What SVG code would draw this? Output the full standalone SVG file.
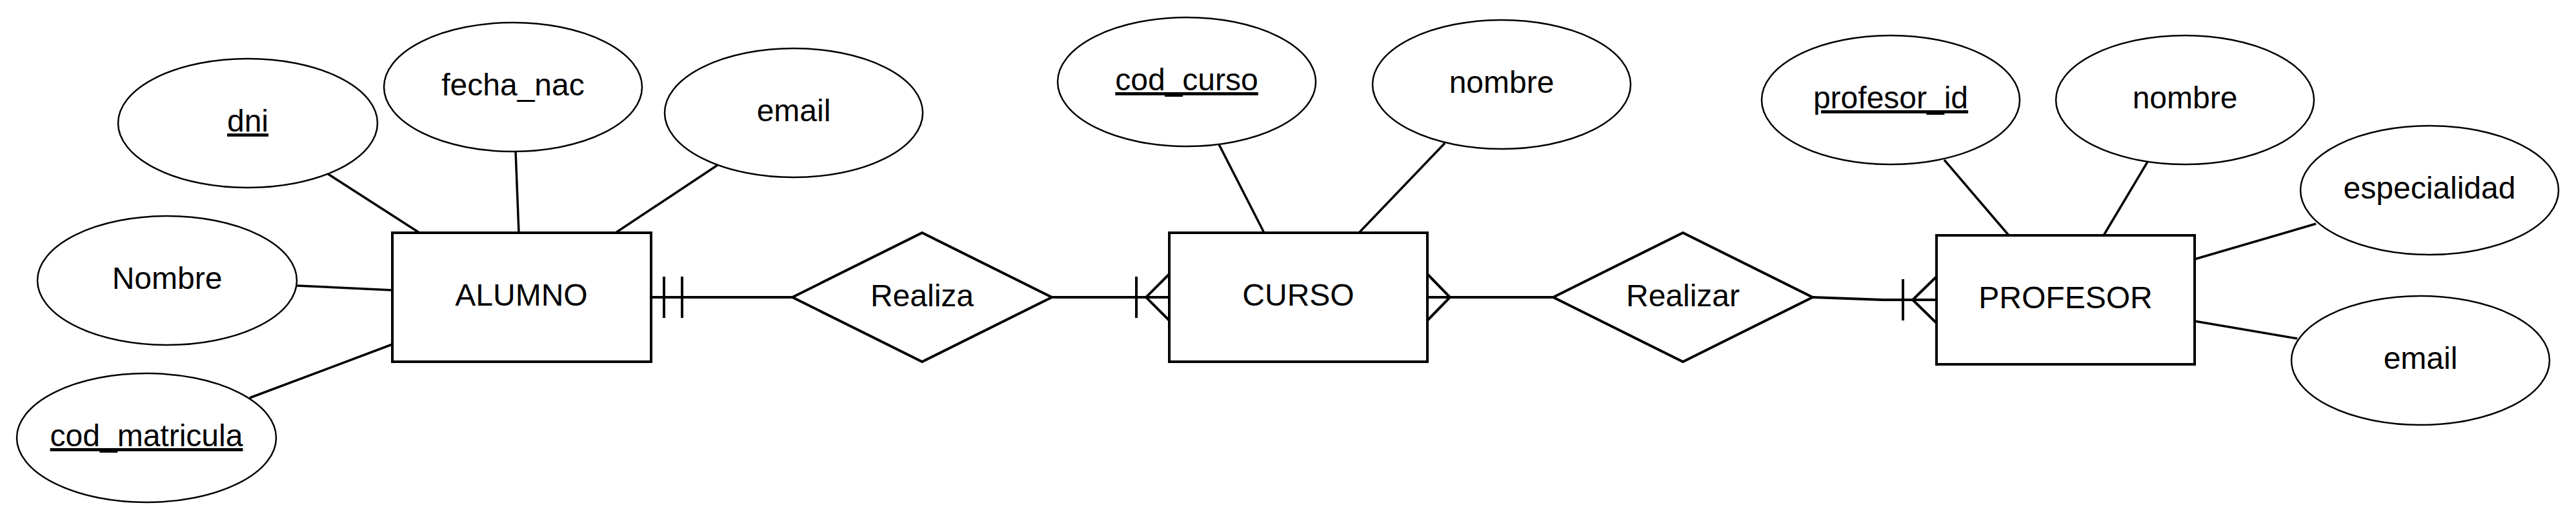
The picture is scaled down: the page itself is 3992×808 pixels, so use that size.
<svg xmlns="http://www.w3.org/2000/svg" width="3992" height="808" viewBox="0 0 3992 808">
<style>
.bg{fill:#ffffff}
.ent{fill:#ffffff;stroke:#000000;stroke-width:4}
.rel{fill:#ffffff;stroke:#000000;stroke-width:4;stroke-linejoin:miter}
.att{fill:#ffffff;stroke:#000000;stroke-width:2.5}
.ln{fill:none;stroke:#000000;stroke-width:3.5}
.rl{fill:none;stroke:#000000;stroke-width:4}
text{font-family:"Liberation Sans",Arial,sans-serif;font-size:48px;fill:#000000;text-anchor:middle}
.key{text-decoration:underline}
</style>
<rect class="bg" x="0" y="0" width="3992" height="808"/>
<g id="connectors">
  <line class="ln" x1="507" y1="269" x2="650" y2="361"/>
  <line class="ln" x1="799" y1="234" x2="804" y2="361"/>
  <line class="ln" x1="1112" y1="256" x2="954" y2="361"/>
  <line class="ln" x1="460" y1="443" x2="608" y2="450"/>
  <line class="ln" x1="387" y1="617" x2="608" y2="534"/>
  <line class="ln" x1="1889" y1="224" x2="1959" y2="361"/>
  <line class="ln" x1="2239" y1="222" x2="2106" y2="361"/>
  <line class="ln" x1="3013" y1="248" x2="3113" y2="365"/>
  <line class="ln" x1="3328" y1="251" x2="3260" y2="365"/>
  <line class="ln" x1="3589" y1="347" x2="3401" y2="402"/>
  <line class="ln" x1="3560" y1="525" x2="3401" y2="498"/>
  <!-- ALUMNO - Realiza -->
  <line class="rl" x1="1009" y1="461" x2="1228" y2="461"/>
  <line class="rl" x1="1029" y1="429" x2="1029" y2="493"/>
  <line class="rl" x1="1057" y1="429" x2="1057" y2="493"/>
  <!-- Realiza - CURSO -->
  <line class="rl" x1="1630" y1="461" x2="1812" y2="461"/>
  <line class="rl" x1="1761" y1="429" x2="1761" y2="493"/>
  <polyline class="rl" points="1812,425 1776,461 1812,497"/>
  <!-- CURSO - Realizar -->
  <line class="rl" x1="2212" y1="461" x2="2407" y2="461"/>
  <polyline class="rl" points="2212,425 2247,461 2212,497"/>
  <!-- Realizar - PROFESOR -->
  <polyline class="rl" points="2809,461 2918,465 3001,465"/>
  <line class="rl" x1="2949" y1="433" x2="2949" y2="497"/>
  <polyline class="rl" points="3001,429 2964,465 3001,501"/>
</g>
<g id="ALUMNO"><rect class="ent" x="608" y="361" width="401" height="200"/><text x="808" y="474">ALUMNO</text></g>
<g id="CURSO"><rect class="ent" x="1812" y="361" width="400" height="200"/><text x="2012" y="474">CURSO</text></g>
<g id="PROFESOR"><rect class="ent" x="3001" y="365" width="400" height="200"/><text x="3201" y="478">PROFESOR</text></g>
<g id="Realiza"><polygon class="rel" points="1228,461 1429,361 1630,461 1429,561"/><text x="1429" y="475">Realiza</text></g>
<g id="Realizar"><polygon class="rel" points="2407,461 2608,361 2809,461 2608,561"/><text x="2608" y="475">Realizar</text></g>
<g id="attr_dni"><ellipse class="att" cx="384" cy="191" rx="201" ry="100"/><text class="key" x="384" y="204">dni</text></g>
<g id="attr_fecha_nac"><ellipse class="att" cx="795" cy="135" rx="200" ry="100"/><text x="795" y="148">fecha_nac</text></g>
<g id="attr_email_alumno"><ellipse class="att" cx="1230" cy="175" rx="200" ry="100"/><text x="1230" y="188">email</text></g>
<g id="attr_Nombre"><ellipse class="att" cx="259" cy="435" rx="201" ry="100"/><text x="259" y="448">Nombre</text></g>
<g id="attr_cod_matricula"><ellipse class="att" cx="227" cy="679" rx="201" ry="100"/><text class="key" x="227" y="692">cod_matricula</text></g>
<g id="attr_cod_curso"><ellipse class="att" cx="1839" cy="127" rx="200" ry="100"/><text class="key" x="1839" y="140">cod_curso</text></g>
<g id="attr_nombre_curso"><ellipse class="att" cx="2327" cy="131" rx="200" ry="100"/><text x="2327" y="144">nombre</text></g>
<g id="attr_profesor_id"><ellipse class="att" cx="2930" cy="155" rx="200" ry="100"/><text class="key" x="2930" y="168">profesor_id</text></g>
<g id="attr_nombre_profesor"><ellipse class="att" cx="3386" cy="155" rx="200" ry="100"/><text x="3386" y="168">nombre</text></g>
<g id="attr_especialidad"><ellipse class="att" cx="3765" cy="295" rx="200" ry="100"/><text x="3765" y="308">especialidad</text></g>
<g id="attr_email_profesor"><ellipse class="att" cx="3751" cy="559" rx="200" ry="100"/><text x="3751" y="572">email</text></g>
</svg>
